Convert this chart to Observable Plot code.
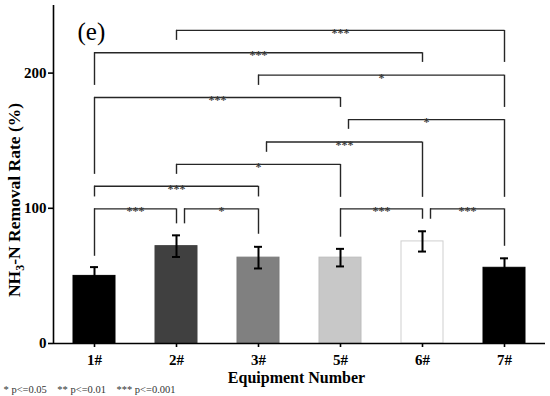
<!DOCTYPE html>
<html>
<head>
<meta charset="utf-8">
<script src="https://cdn.jsdelivr.net/npm/d3@7"></script>
<script src="https://cdn.jsdelivr.net/npm/@observablehq/plot@0.6"></script>
<style>
  html, body { margin: 0; padding: 0; background: #fff; }
</style>
</head>
<body>
<div id="chart"></div>
<script>
// ---- data ----
const categories = ["1#", "2#", "3#", "5#", "6#", "7#"];
const means = [50, 72, 63.5, 63.5, 75.5, 56];
const errors = [6.5, 8, 8, 6.5, 7.5, 7];

// significance brackets
const bracketLeft  = ["2#", "1#", "3#", "1#", "5#", "3#", "2#", "1#", "1#", "2#", "5#", "6#"];
const bracketRight = ["7#", "6#", "7#", "5#", "7#", "6#", "5#", "3#", "2#", "3#", "6#", "7#"];
const bracketHeight = [231.6, 215.1, 198.5, 182, 165.6, 149, 132.5, 116.3, 99.6, 99.6, 99.6, 99.6];
const leftLegEnd  = [224.2, 190.9, 190.9, 125.1, 158.4, 141.4, 125.1, 108.4, 64.5, 88.5, 78.6, 91.9];
const rightLegEnd = [207.9, 207.9, 174.6, 174.6, 108.1, 108.1, 108.1, 108.4, 88.5, 80.8, 91.9, 71.9];
const bracketLabel = ["***", "***", "*", "***", "*", "***", "*", "***", "***", "*", "***", "***"];
const leftLegShifted = [false, false, false, false, true, true, false, false, false, true, false, true];

const yTicks = [0, 100, 200];
const legendItems = ["* p<=0.05", "** p<=0.01", "*** p<=0.001"];

// ---- styles ----
const barFills   = ["#000000", "#404040", "#808080", "#c8c8c8", "#ffffff", "#000000"];
const barStrokes = ["#000000", "#404040", "#7a7a7a", "#bdbdbd", "#cfcfcf", "#000000"];
const FONT = "'Liberation Serif', 'Times New Roman', serif";

const W = 550, H = 396;
const mL = 53, mR = 5, mT = 5, mB = 53;
const step = (W - mL - mR) / categories.length;
const shift = 8 / step;          // leg offset in x-units
const capHalf = 4 / step;        // error-bar cap half width
const barHalf = 21 / step;       // bar half width

const idx = c => categories.indexOf(c);
const bars = categories.map((c, i) => ({i, c, m: means[i], e: errors[i], fill: barFills[i], stroke: barStrokes[i]}));
const brackets = bracketLeft.map((l, k) => ({
  xl: idx(l) + (leftLegShifted[k] ? shift : 0),
  xr: idx(bracketRight[k]),
  h: bracketHeight[k],
  le: leftLegEnd[k],
  re: rightLegEnd[k],
  label: bracketLabel[k]
}));

const lineColor = "#262626";

const svg = Plot.plot({
  width: W,
  height: H,
  marginLeft: mL,
  marginRight: mR,
  marginTop: mT,
  marginBottom: mB,
  style: {fontFamily: FONT, fontSize: "15px", fontWeight: "bold", color: "#000", background: "#fff"},
  x: {
    type: "linear",
    domain: [-0.5, categories.length - 0.5],
    ticks: categories.map((c, i) => i),
    tickFormat: i => categories[i],
    tickSize: 4,
    tickPadding: 7,
    label: null
  },
  y: {
    domain: [0, 250],
    ticks: yTicks,
    tickSize: 5,
    tickPadding: 2,
    label: null
  },
  marks: [
    // bars
    Plot.rectY(bars, {x1: d => d.i - barHalf, x2: d => d.i + barHalf, y1: 0, y2: "m", fill: "fill", stroke: "stroke", strokeWidth: 1}),
    // error bars
    Plot.ruleX(bars, {x: "i", y1: d => d.m - d.e, y2: d => d.m + d.e, stroke: "#000", strokeWidth: 2}),
    Plot.ruleY(bars, {y: d => d.m + d.e, x1: d => d.i - capHalf, x2: d => d.i + capHalf, stroke: "#000", strokeWidth: 2}),
    Plot.ruleY(bars, {y: d => d.m - d.e, x1: d => d.i - capHalf, x2: d => d.i + capHalf, stroke: "#000", strokeWidth: 2}),
    // brackets
    Plot.ruleY(brackets, {y: "h", x1: "xl", x2: "xr", stroke: lineColor, strokeWidth: 1.4}),
    Plot.ruleX(brackets, {x: "xl", y1: "h", y2: "le", stroke: lineColor, strokeWidth: 1.4}),
    Plot.ruleX(brackets, {x: "xr", y1: "h", y2: "re", stroke: lineColor, strokeWidth: 1.4}),
    Plot.text(brackets, {x: d => (d.xl + d.xr) / 2, y: "h", text: "label", fontSize: 12, fontWeight: "bold", fill: "#3a3a3a", lineAnchor: "bottom", dy: 6.5}),
    // axes lines
    Plot.ruleY([0], {stroke: "#000", strokeWidth: 1.6}),
    Plot.ruleX([-0.5], {stroke: "#000", strokeWidth: 1.6}),
    // panel tag
    Plot.text(["(e)"], {frameAnchor: "top-left", dx: 24, dy: 34, lineAnchor: "bottom", textAnchor: "start", fontSize: 25, fontWeight: "normal", fill: "#000"}),
    // x axis title
    Plot.text(["Equipment Number"], {frameAnchor: "bottom", dx: -3, dy: 39, lineAnchor: "bottom", fontSize: 16, fontWeight: "bold", fill: "#000"}),
    // significance legend
    Plot.text([legendItems.join("\u00a0\u00a0\u00a0\u00a0")], {frameAnchor: "bottom-left", dx: -50, dy: 49, lineAnchor: "bottom", textAnchor: "start", fontSize: 10.5, fontWeight: "normal", fill: "#333"})
  ]
});

d3.select(svg).selectAll("g[aria-label^='x-axis'] path, g[aria-label^='y-axis'] path").attr("stroke-width", 1.6);

// y axis title with subscript
const yt = d3.select(svg).append("text")
  .attr("transform", "translate(20,200) rotate(-90)")
  .attr("text-anchor", "middle")
  .attr("font-family", FONT)
  .attr("font-size", 17.5)
  .attr("font-weight", "bold")
  .attr("fill", "#000");
yt.append("tspan").text("NH");
yt.append("tspan").attr("font-size", 12).attr("dy", 4).text("3");
yt.append("tspan").attr("dy", -4).text("-N Removal Rate (%)");

document.getElementById("chart").appendChild(svg);
</script>
</body>
</html>
